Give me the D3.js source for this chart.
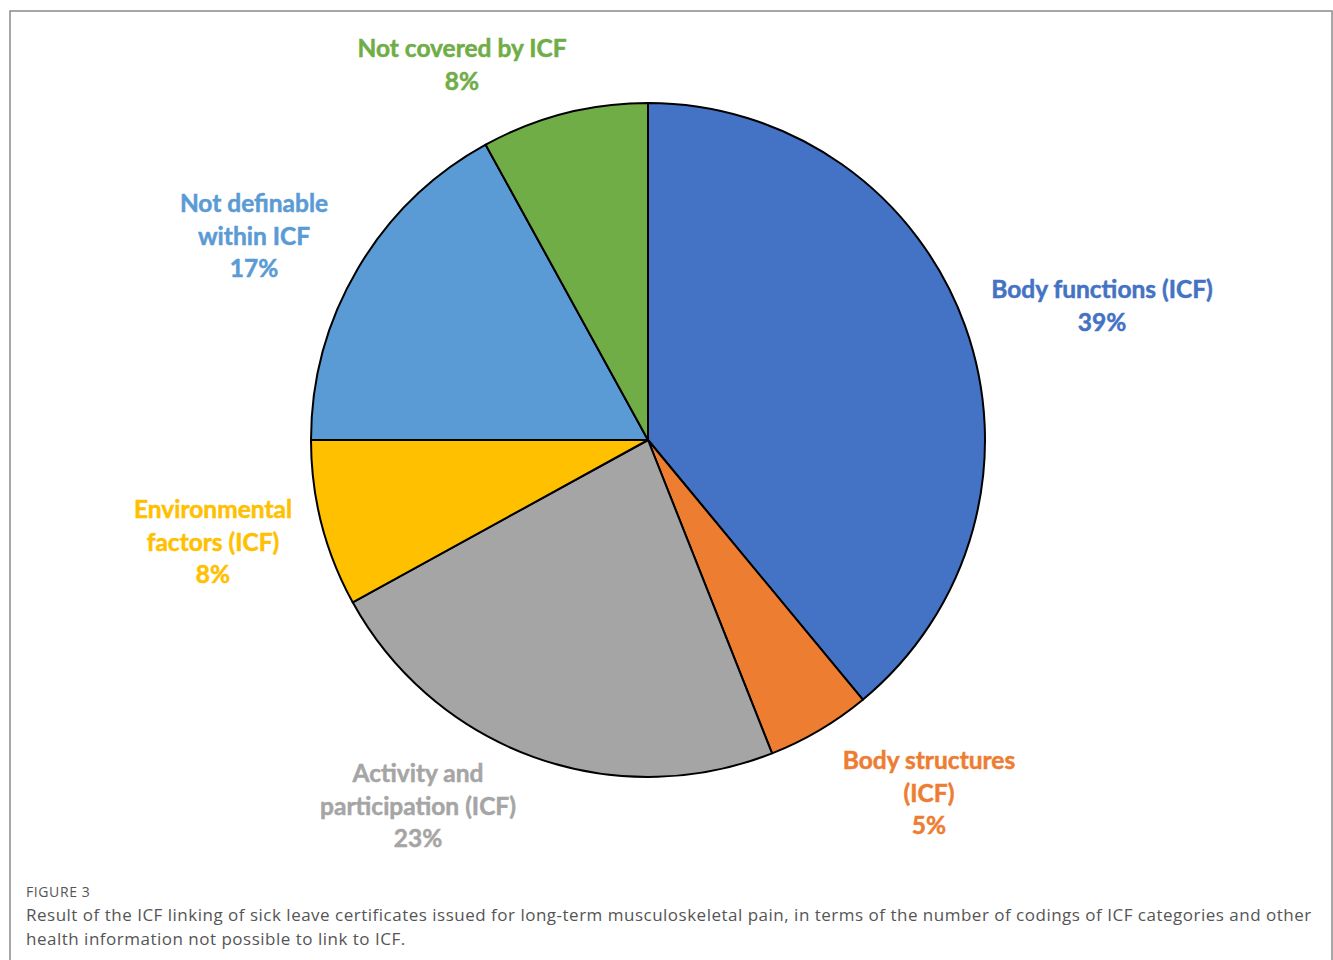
<!DOCTYPE html>
<html>
<head>
<meta charset="utf-8">
<title>ICF linking</title>
<script src="https://d3js.org/d3.v7.min.js"></script>
<style>
body { margin: 0; background: #fff; }
</style>
</head>
<body>
<script>
// slice data, clockwise from 12 o'clock
var categories = ["Body functions (ICF)", "Body structures (ICF)", "Activity and participation (ICF)",
                  "Environmental factors (ICF)", "Not definable within ICF", "Not covered by ICF"];
var values = [39, 5, 23, 8, 17, 8];
// how each label breaks into lines
var labelLines = [
	["Body functions (ICF)"],
	["Body structures", "(ICF)"],
	["Activity and", "participation (ICF)"],
	["Environmental", "factors (ICF)"],
	["Not definable", "within ICF"],
	["Not covered by ICF"]
];
var colors = ["#4472C4", "#ED7D31", "#A5A5A5", "#FFC000", "#5B9BD5", "#70AD47"];
// label block anchor (centre x, first baseline y)
var labelPos = [[1102, 298], [929, 769], [418, 782], [213, 518], [254, 212], [462, 57]];

var W = 1333, H = 960;
var cx = 648, cy = 440, radius = 337;

var svg = d3.select("body").append("svg")
	.attr("width", W)
	.attr("height", H);

// frame
svg.append("rect")
	.attr("x", 10).attr("y", 11)
	.attr("width", 1322).attr("height", 1000)
	.attr("fill", "none")
	.attr("stroke", "#8a8a8a")
	.attr("stroke-width", 1.5);

var pie = d3.pie().sort(null).value(function(d) { return d; });
var arc = d3.arc().innerRadius(0).outerRadius(radius);

var g = svg.append("g").attr("transform", "translate(" + cx + "," + cy + ")");

g.selectAll("path")
	.data(pie(values))
	.enter().append("path")
	.attr("d", arc)
	.attr("fill", function(d, i) { return colors[i]; })
	.attr("stroke", "#000")
	.attr("stroke-width", 2)
	.attr("stroke-linejoin", "round");

// labels
var lineH = 32.5;
categories.forEach(function(c, i) {
	var lines = labelLines[i].concat([values[i] + "%"]);
	var t = svg.append("text")
		.attr("x", labelPos[i][0])
		.attr("y", labelPos[i][1])
		.attr("text-anchor", "middle")
		.attr("fill", colors[i])
		.attr("stroke", colors[i])
		.attr("stroke-width", 0.5)
		.style("font-family", "Lato, 'Open Sans', sans-serif")
		.style("font-weight", "bold")
		.style("font-size", "24.5px");
	lines.forEach(function(l, j) {
		t.append("tspan")
			.attr("x", labelPos[i][0])
			.attr("dy", j == 0 ? 0 : lineH)
			.text(l);
	});
});

// caption
svg.append("text")
	.attr("x", 26).attr("y", 897)
	.attr("fill", "#555")
	.style("font-family", "'Open Sans', sans-serif")
	.style("font-size", "14px")
	.style("letter-spacing", "0.6px")
	.text("FIGURE 3");

var cap = ["Result of the ICF linking of sick leave certificates issued for long-term musculoskeletal pain, in terms of the number of codings of ICF categories and other",
           "health information not possible to link to ICF."];
cap.forEach(function(l, j) {
	svg.append("text")
		.attr("x", 26).attr("y", 921 + j * 24)
		.attr("fill", "#555")
		.style("font-family", "'Open Sans', sans-serif")
		.style("font-size", "17px")
		.style("letter-spacing", "0.5px")
		.text(l);
});
</script>
</body>
</html>
